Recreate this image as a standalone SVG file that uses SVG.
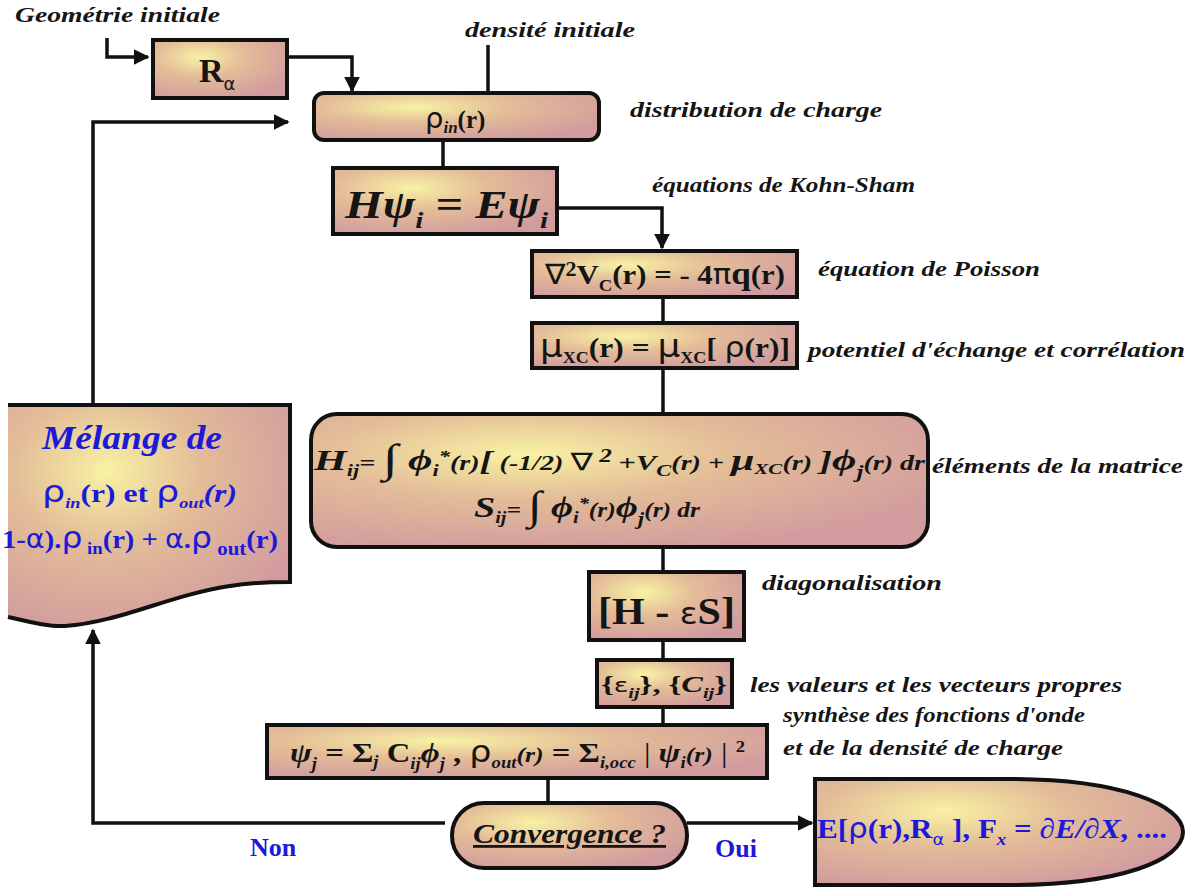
<svg xmlns="http://www.w3.org/2000/svg" width="1192" height="887" viewBox="0 0 1192 887">
<style>
.lbl{font-family:"Liberation Serif","DejaVu Serif",serif;font-weight:bold;font-style:italic;font-size:21px;fill:#151515}
.m{font-family:"Liberation Serif","DejaVu Serif",serif;font-weight:bold;fill:#151515}
.g{font-family:"DejaVu Sans","Liberation Sans",sans-serif;font-weight:normal}
.i{font-style:italic}
.blue{fill:#1a1ad8}
.box{fill:url(#grad);stroke:#111;stroke-width:4}
.con{fill:none;stroke:#111;stroke-width:3.5}
</style>
<defs>
<radialGradient id="grad" cx="0.35" cy="0.3" r="0.75" fx="0.35" fy="0.3">
<stop offset="0" stop-color="#f8f2a4"/>
<stop offset="0.45" stop-color="#e3bc98"/>
<stop offset="1" stop-color="#d29c9e"/>
</radialGradient>
<marker id="arr" viewBox="0 0 10 10" refX="9" refY="5" markerWidth="4.5" markerHeight="4.5" orient="auto" markerUnits="strokeWidth">
<path d="M0,0 L10,5 L0,10 Z" fill="#111"/>
</marker>
</defs>
<rect width="1192" height="887" fill="#fff"/>

<g id="connectors">
<path class="con" d="M107,38 V57 H148" marker-end="url(#arr)"/>
<path class="con" d="M287,57 H352 V91" marker-end="url(#arr)"/>
<path class="con" d="M488,45 V93"/>
<path class="con" d="M93,405 V122 H288" marker-end="url(#arr)"/>
<path class="con" d="M443,140 V168"/>
<path class="con" d="M557,208 H662 V248" marker-end="url(#arr)"/>
<path class="con" d="M663,297 V323"/>
<path class="con" d="M663,368 V414"/>
<path class="con" d="M663,547 V572"/>
<path class="con" d="M663,640 V660"/>
<path class="con" d="M663,707 V725"/>
<path class="con" d="M548,778 V803"/>
<path class="con" d="M445,823 H93 V630" marker-end="url(#arr)"/>
<path class="con" d="M687,823 H812" marker-end="url(#arr)"/>
</g>

<g id="label-geometrie"><text class="lbl" x="15" y="22" textLength="205" lengthAdjust="spacingAndGlyphs">Geométrie initiale</text></g>
<g id="label-densite"><text class="lbl" x="465" y="37" textLength="170" lengthAdjust="spacingAndGlyphs">densité initiale</text></g>

<g id="node-ralpha">
<rect class="box" x="153" y="40" width="134" height="58"/>
<text class="m" x="199" y="82" font-size="34">R<tspan class="g" font-size="18" dy="8">α</tspan></text>
</g>

<g id="node-rhoin">
<rect class="box" x="314" y="93" width="285" height="47" rx="10"/>
<text class="m" x="425" y="128" font-size="25"><tspan class="g" font-size="29">ρ</tspan><tspan class="i" font-size="17" dy="5">in</tspan><tspan dy="-5">(r)</tspan></text>
<text class="lbl" x="630" y="117" textLength="252" lengthAdjust="spacingAndGlyphs">distribution de charge</text>
</g>

<g id="node-ks">
<rect class="box" x="333" y="168" width="224" height="66"/>
<text class="m i" x="345" y="218" font-size="40" textLength="203" lengthAdjust="spacingAndGlyphs">Hψ<tspan font-size="24" dy="10">i</tspan><tspan dy="-10"> = Eψ</tspan><tspan font-size="24" dy="10">i</tspan></text>
<text class="lbl" x="652" y="192" textLength="263" lengthAdjust="spacingAndGlyphs">équations de Kohn-Sham</text>
</g>

<g id="node-poisson">
<rect class="box" x="532" y="251" width="265" height="46"/>
<text class="m" x="545" y="284" font-size="28" textLength="240" lengthAdjust="spacingAndGlyphs"><tspan class="g">∇</tspan><tspan font-size="20" dy="-8">2</tspan><tspan dy="8">V</tspan><tspan font-size="17" dy="7">C</tspan><tspan dy="-7">(r) = - 4</tspan><tspan class="g">π</tspan><tspan font-size="32">q</tspan>(r)</text>
<text class="lbl" x="818" y="276" textLength="222" lengthAdjust="spacingAndGlyphs">équation de Poisson</text>
</g>

<g id="node-vxc">
<rect class="box" x="532" y="323" width="265" height="45"/>
<text class="m" x="540" y="357" font-size="28" textLength="250" lengthAdjust="spacingAndGlyphs"><tspan class="g" font-size="32">μ</tspan><tspan font-size="16" dy="6">XC</tspan><tspan dy="-6">(r) = </tspan><tspan class="g" font-size="32">μ</tspan><tspan font-size="16" dy="6">XC</tspan><tspan dy="-6">[ </tspan><tspan class="g">ρ</tspan>(r)]</text>
<text class="lbl" x="808" y="357" textLength="377" lengthAdjust="spacingAndGlyphs">potentiel d'échange et corrélation</text>
</g>

<g id="node-matrix">
<rect class="box" x="311" y="414" width="617" height="133" rx="26"/>
<text class="m i" x="314" y="470" font-size="30" textLength="611" lengthAdjust="spacingAndGlyphs">H<tspan font-size="16" dy="6">ij</tspan><tspan font-size="20" dy="-6">= </tspan><tspan font-size="40" dy="2">∫</tspan><tspan dy="-2"> ϕ</tspan><tspan font-size="16" dy="6">i</tspan><tspan font-size="16" dy="-14">*</tspan><tspan font-size="20" dy="8">(r)</tspan><tspan font-size="28">[</tspan><tspan font-size="20"> (-1/2) </tspan><tspan class="g" font-size="24">∇</tspan><tspan font-size="18" dy="-8"> 2 </tspan><tspan font-size="22" dy="8">+V</tspan><tspan font-size="16" dy="6">C</tspan><tspan font-size="20" dy="-6">(r) + </tspan><tspan>μ</tspan><tspan font-size="15" dy="4">XC</tspan><tspan font-size="20" dy="-4">(r) </tspan><tspan font-size="28">]</tspan><tspan>ϕ</tspan><tspan font-size="18" dy="8">j</tspan><tspan font-size="20" dy="-8">(r) dr</tspan></text>
<text class="m i" x="474" y="517" font-size="30" textLength="226" lengthAdjust="spacingAndGlyphs">S<tspan font-size="16" dy="6">ij</tspan><tspan font-size="20" dy="-6">= </tspan><tspan font-size="40" dy="2">∫</tspan><tspan dy="-2"> ϕ</tspan><tspan font-size="16" dy="6">i</tspan><tspan font-size="16" dy="-14">*</tspan><tspan font-size="20" dy="8">(r)</tspan><tspan>ϕ</tspan><tspan font-size="18" dy="8">j</tspan><tspan font-size="20" dy="-8">(r) dr</tspan></text>
<text class="lbl" x="932" y="473" textLength="251" lengthAdjust="spacingAndGlyphs">éléments de la matrice</text>
</g>

<g id="node-diag">
<rect class="box" x="589" y="572" width="155" height="68"/>
<text class="m" x="598" y="624" font-size="38" textLength="137" lengthAdjust="spacingAndGlyphs">[H - <tspan class="g" font-size="30">ε</tspan>S]</text>
<text class="lbl" x="762" y="590" textLength="180" lengthAdjust="spacingAndGlyphs">diagonalisation</text>
</g>

<g id="node-eig">
<rect class="box" x="597" y="660" width="135" height="47"/>
<text class="m" x="601" y="692" font-size="24" textLength="126" lengthAdjust="spacingAndGlyphs">{<tspan class="g" font-size="20">ε</tspan><tspan class="i" font-size="15" dy="6">ij</tspan><tspan dy="-6">}, {</tspan><tspan class="i">C</tspan><tspan class="i" font-size="15" dy="6">ij</tspan><tspan dy="-6">}</tspan></text>
<text class="lbl" x="750" y="692" textLength="372" lengthAdjust="spacingAndGlyphs">les valeurs et les vecteurs propres</text>
</g>

<g id="node-synth">
<rect class="box" x="267" y="725" width="500" height="53"/>
<text class="m" x="290" y="762" font-size="28" textLength="455" lengthAdjust="spacingAndGlyphs"><tspan class="i">ψ</tspan><tspan class="i" font-size="16" dy="7">j</tspan><tspan dy="-7"> = Σ</tspan><tspan class="i" font-size="16" dy="5">j</tspan><tspan dy="-5"> C</tspan><tspan class="i" font-size="16" dy="7">ij</tspan><tspan class="i" dy="-7">ϕ</tspan><tspan class="i" font-size="16" dy="7">j</tspan><tspan dy="-7"> , </tspan><tspan class="g" font-size="30">ρ</tspan><tspan class="i" font-size="16" dy="6">out</tspan><tspan class="i" font-size="22" dy="-6">(r)</tspan><tspan> = Σ</tspan><tspan class="i" font-size="16" dy="6">i,occ</tspan><tspan font-weight="normal" dy="-6"> | </tspan><tspan class="i">ψ</tspan><tspan class="i" font-size="16" dy="6">i</tspan><tspan class="i" font-size="22" dy="-6">(r)</tspan><tspan font-weight="normal"> | </tspan><tspan font-size="16" dy="-10">2</tspan></text>
<text class="lbl" x="783" y="722" textLength="302" lengthAdjust="spacingAndGlyphs">synthèse des fonctions d'onde</text>
<text class="lbl" x="783" y="755" textLength="280" lengthAdjust="spacingAndGlyphs">et de la densité de charge</text>
</g>

<g id="node-convergence">
<rect class="box" x="452" y="803" width="235" height="65" rx="32"/>
<text class="m i" x="473" y="843" font-size="28" textLength="193" lengthAdjust="spacingAndGlyphs" text-decoration="underline">Convergence ?</text>
</g>

<g id="label-non"><text class="m blue" x="250" y="856" font-size="26">Non</text></g>
<g id="label-oui"><text class="m blue" x="715" y="857" font-size="26">Oui</text></g>

<g id="node-melange">
<path fill="url(#grad)" d="M8,405 H290 V582 C275,582 255,582 230,586 C170,595 120,622 65,626 C50,627 30,622 8,617 Z"/>
<path fill="none" stroke="#111" stroke-width="4" d="M8,405 H290 V582 C275,582 255,582 230,586 C170,595 120,622 65,626 C50,627 30,622 8,617"/>
<text class="m i blue" x="42" y="449" font-size="34" textLength="180" lengthAdjust="spacingAndGlyphs">Mélange de</text>
<text class="m blue" x="42" y="502" font-size="26" textLength="195" lengthAdjust="spacingAndGlyphs"><tspan class="g" font-size="30">ρ</tspan><tspan class="i" font-size="15" dy="6">in</tspan><tspan dy="-6">(r) et  </tspan><tspan class="g" font-size="30">ρ</tspan><tspan class="i" font-size="15" dy="6">out</tspan><tspan class="i" dy="-6">(r)</tspan></text>
<text class="m blue" x="2" y="548" font-size="26" textLength="276" lengthAdjust="spacingAndGlyphs">1-<tspan class="g">α</tspan>).<tspan class="g" font-size="30">ρ</tspan><tspan font-size="17" dy="6"> in</tspan><tspan dy="-6">(r) + </tspan><tspan class="g">α</tspan>.<tspan class="g" font-size="30">ρ</tspan><tspan font-size="19" dy="7"> out</tspan><tspan dy="-7">(r)</tspan></text>
</g>

<g id="node-result">
<path class="box" d="M815,779 H1010 C1120,779 1183,805 1183,832 C1183,860 1120,885 1010,885 H815 Z"/>
<text class="m blue" x="817" y="838" font-size="28" textLength="350" lengthAdjust="spacingAndGlyphs">E[<tspan class="g">ρ</tspan>(r),R<tspan class="g" font-size="16" dy="7">α</tspan><tspan dy="-7"> ], F</tspan><tspan class="i" font-size="17" dy="7">x</tspan><tspan dy="-7"> = </tspan><tspan class="i">∂E/∂X</tspan>, ....</text>
</g>
</svg>
